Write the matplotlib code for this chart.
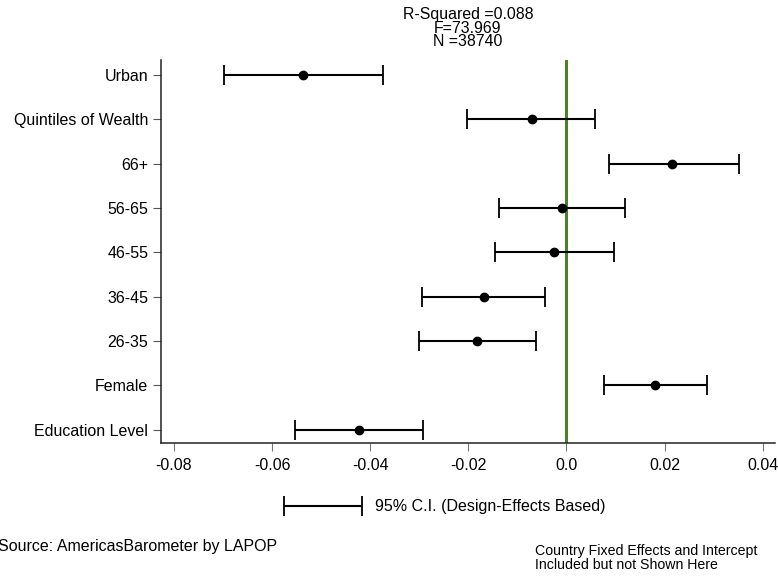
import numpy as np
import matplotlib
matplotlib.use("Agg")
import matplotlib.pyplot as plt
from matplotlib.legend_handler import HandlerErrorbar

plt.rcParams['font.family'] = ['Liberation Sans', 'DejaVu Sans']
plt.rcParams['font.size'] = 11.5

# coefficients and 95% CI bounds, listed top to bottom as in the chart
labels = ['Urban', 'Quintiles of Wealth', '66+', '56-65', '46-55',
          '36-45', '26-35', 'Female', 'Education Level']
coef = [-0.0537, -0.0071, 0.0216, -0.0008, -0.0025, -0.0169, -0.0182, 0.0180, -0.0423]
ci_low = [-0.0698, -0.0202, 0.0086, -0.0137, -0.0145, -0.0294, -0.0300, 0.0077, -0.0554]
ci_high = [-0.0373, 0.0059, 0.0351, 0.0120, 0.0098, -0.0043, -0.0061, 0.0287, -0.0292]

xticks = [-0.08, -0.06, -0.04, -0.02, 0.0, 0.02, 0.04]
xticklabels = ['-0.08', '-0.06', '-0.04', '-0.02', '0.0', '0.02', '0.04']

stats_title = 'R-Squared =0.088\nF=73.969\nN =38740'

coef = np.array(coef)
lo = coef - np.array(ci_low)
hi = np.array(ci_high) - coef
ypos = np.arange(len(labels), 0, -1)

fig = plt.figure(figsize=(7.78, 5.77), dpi=100)
ax = fig.add_axes([0.2066, 0.2322, 0.7894, 0.6638])

ax.axvline(0, color='#4f7f2a', lw=2.2, zorder=1)
ax.errorbar(coef, ypos, xerr=[lo, hi], fmt='o', color='black', ecolor='black',
            elinewidth=1.5, capsize=7.5, capthick=1.3, markersize=6, zorder=3)

ax.set_xlim(-0.0827, 0.0425)
ax.set_ylim(0.695, 9.34)
ax.set_xticks(xticks)
ax.set_xticklabels(xticklabels)
ax.set_yticks(ypos)
ax.set_yticklabels(labels)

for s in ['top', 'right']:
    ax.spines[s].set_visible(False)
for s in ['left', 'bottom']:
    ax.spines[s].set_linewidth(1.1)
    ax.spines[s].set_color('#222222')
ax.tick_params(axis='x', length=6, width=0.8, color='#777777', pad=5)
ax.tick_params(axis='y', length=5.5, width=0.8, color='#555555', pad=3.5)

ax.set_title(stats_title, fontsize=11.4, linespacing=0.88, pad=10)

# legend: CI sample only
dummy = ax.errorbar([np.nan], [np.nan], xerr=[[np.nan], [np.nan]], fmt='none',
                    ecolor='black', elinewidth=1.5, capsize=7.5, capthick=1.3)
fig.legend([dummy], ['95% C.I. (Design-Effects Based)'],
           handler_map={type(dummy): HandlerErrorbar(xerr_size=2.44)},
           loc='center left', bbox_to_anchor=(284 / 778, 1 - 507 / 577),
           frameon=False, borderpad=0, borderaxespad=0,
           handlelength=4.9, handletextpad=0.8, fontsize=11.5)

fig.text(-0.002, 1 - 547 / 577, 'Source: AmericasBarometer by LAPOP',
         ha='left', va='center', fontsize=11.5)
fig.text(535 / 778, 1 - 558 / 577,
         'Country Fixed Effects and Intercept\nIncluded but not Shown Here',
         ha='left', va='center', fontsize=10.2, linespacing=0.95)

fig.savefig('out.png', dpi=100)
